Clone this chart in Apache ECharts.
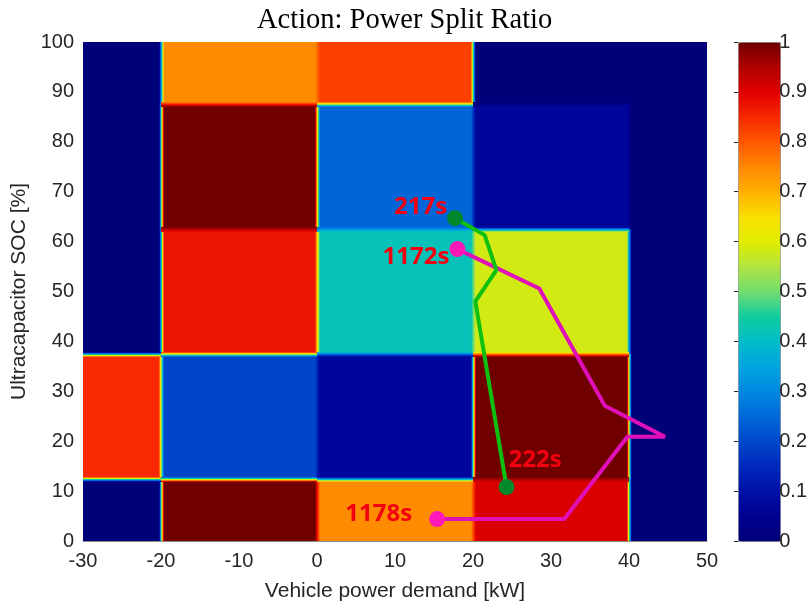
<!DOCTYPE html>
<html>
<head>
<meta charset="utf-8">
<script src="https://cdn.jsdelivr.net/npm/echarts@6/dist/echarts.min.js"></script>
<style>
  html, body { margin: 0; padding: 0; background: #ffffff; }
  #chart { width: 810px; height: 609px; }
</style>
</head>
<body>
<div id="chart"></div>
<script>
// Cell edges of the lookup table (power demand in kW, SOC in %)
const powerEdges = [-30, -20, 0, 20, 40, 50];
const socEdges = [0, 12.5, 37.5, 62.5, 87.5, 100];

// Power split ratio per cell, rows from low SOC to high SOC
const splitRatio = [
  [0.00, 1.00, 0.745, 0.905, 0.00],
  [0.85, 0.195, 0.07, 1.00, 0.00],
  [0.00, 0.875, 0.42, 0.585, 0.00],
  [0.00, 1.00, 0.245, 0.07, 0.00],
  [0.00, 0.745, 0.825, 0.00, 0.00]
];

// Operating trajectories [power kW, SOC %]
const trajA = [[17.7, 64.7], [21.5, 61.3], [23.0, 54.3], [20.3, 48.0], [24.3, 10.8]];
const trajATimes = ['217s', '222s'];
const trajB = [[18.0, 58.5], [28.5, 50.6], [36.9, 27.1], [44.6, 20.9], [39.8, 20.9], [31.7, 4.4], [15.4, 4.4]];
const trajBTimes = ['1172s', '1178s'];

// Colorbar ticks
const barTicks = [0, 0.1, 0.2, 0.3, 0.4, 0.5, 0.6, 0.7, 0.8, 0.9, 1];

// Jet-like colormap, stops evenly spaced from 0 to 1 (step 0.05)
const jetStops = [
  '#000078', '#000090', '#0010a8', '#0028bc', '#0048cc', '#0068d8', '#0088e0',
  '#00a4e0', '#00bcc8', '#10cca0', '#70dc70', '#b0e440', '#e0ec00', '#f8e000',
  '#ffb000', '#ff8800', '#ff5800', '#f82800', '#e00000', '#b00000', '#700000'
];

function hexToRgb(h) {
  return [parseInt(h.slice(1, 3), 16), parseInt(h.slice(3, 5), 16), parseInt(h.slice(5, 7), 16)];
}
const jetRgb = jetStops.map(hexToRgb);
function jet(v) {
  v = Math.max(0, Math.min(1, v));
  const p = v * (jetRgb.length - 1);
  const i = Math.min(Math.floor(p), jetRgb.length - 2);
  const t = p - i;
  const a = jetRgb[i], b = jetRgb[i + 1];
  const c = a.map((x, k) => Math.round(x + (b[k] - x) * t));
  return 'rgb(' + c.join(',') + ')';
}

// Cells: [x0, x1, y0, y1, value]
const cells = [];
for (let r = 0; r < splitRatio.length; r++) {
  for (let c = 0; c < splitRatio[r].length; c++) {
    cells.push([powerEdges[c], powerEdges[c + 1], socEdges[r], socEdges[r + 1], splitRatio[r][c]]);
  }
}

// Interpolated seams between neighbouring cells: [a, b, c, vFrom, vTo, kind]
// kind 0: vertical seam at x=a from y=b to y=c; kind 1: horizontal seam at y=c from x=a to x=b
const seams = [];
for (let r = 0; r < splitRatio.length; r++) {
  for (let c = 0; c < splitRatio[r].length - 1; c++) {
    const va = splitRatio[r][c], vb = splitRatio[r][c + 1];
    if (va !== vb) seams.push([powerEdges[c + 1], socEdges[r], socEdges[r + 1], va, vb, 0]);
  }
}
for (let r = 0; r < splitRatio.length - 1; r++) {
  for (let c = 0; c < splitRatio[r].length; c++) {
    const va = splitRatio[r][c], vb = splitRatio[r + 1][c];
    if (va !== vb) seams.push([powerEdges[c], powerEdges[c + 1], socEdges[r + 1], va, vb, 1]);
  }
}

const tickFont = { fontFamily: 'Liberation Sans, Arial, sans-serif', fontSize: 20, color: '#262626' };
const labelFont = { fontFamily: 'Open Sans, sans-serif', fontWeight: 'bold', fontSize: 24, color: '#f20010' };

const chart = echarts.init(document.getElementById('chart'), null, { renderer: 'canvas' });
const R = Math.round;

const option = {
  backgroundColor: '#ffffff',
  animation: false,
  title: {
    text: 'Action: Power Split Ratio',
    left: 252,
    top: 1,
    textStyle: { fontFamily: 'Liberation Serif, Times New Roman, serif', fontWeight: 'normal', fontSize: 28.5, color: '#000000' }
  },
  grid: [
    { left: 83, right: 103, top: 42, bottom: 68 },
    { left: 738, width: 42, top: 42, bottom: 68 }
  ],
  xAxis: [
    {
      type: 'value', gridIndex: 0, min: -30, max: 50, interval: 10,
      name: 'Vehicle power demand [kW]', nameLocation: 'middle', nameGap: 40,
      nameTextStyle: Object.assign({}, tickFont, { fontSize: 21 }),
      axisLine: { show: true, lineStyle: { color: '#8c8c8c', width: 1 } },
      axisTick: { show: false },
      splitLine: { show: false },
      axisLabel: Object.assign({ margin: 10 }, tickFont)
    },
    { type: 'value', gridIndex: 1, show: false, min: 0, max: 1 }
  ],
  yAxis: [
    {
      type: 'value', gridIndex: 0, min: 0, max: 100, interval: 10,
      name: 'Ultracapacitor SOC [%]', nameLocation: 'middle', nameGap: 50,
      nameTextStyle: Object.assign({}, tickFont, { fontSize: 21 }),
      axisLine: { show: true, lineStyle: { color: '#8c8c8c', width: 1 } },
      axisTick: { show: false },
      splitLine: { show: false },
      axisLabel: Object.assign({ margin: 9 }, tickFont)
    },
    {
      type: 'value', gridIndex: 1, min: 0, max: 1, interval: 0.1, position: 'right', z: 10,
      axisLine: { show: false },
      axisTick: { show: true, inside: true, length: 4, lineStyle: { color: '#262626' } },
      splitLine: { show: false },
      axisLabel: Object.assign({
        margin: 9,
        formatter: function (v) {
          const m = barTicks.find(t => Math.abs(t - v) < 1e-6);
          return m === undefined ? '' : String(m);
        }
      }, tickFont)
    }
  ],
  visualMap: {
    type: 'continuous',
    seriesIndex: 0,
    dimension: 4,
    min: 0, max: 1,
    orient: 'vertical',
    left: 738, top: 42,
    itemWidth: 42, itemHeight: 499,
    padding: 0,
    calculable: false,
    hoverLink: false,
    showLabel: false,
    text: null,
    borderColor: '#8c8c8c',
    borderWidth: 1,
    inRange: { color: jetStops }
  },
  series: [
    {
      type: 'custom',
      xAxisIndex: 0, yAxisIndex: 0,
      data: cells,
      encode: { x: [0, 1], y: [2, 3] },
      clip: true,
      silent: true,
      renderItem: function (params, api) {
        const p0 = api.coord([api.value(0), api.value(3)]);
        const p1 = api.coord([api.value(1), api.value(2)]);
        const x0 = R(p0[0]), y0 = R(p0[1]), x1 = R(p1[0]), y1 = R(p1[1]);
        return {
          type: 'rect',
          shape: { x: x0, y: y0, width: x1 - x0, height: y1 - y0 },
          style: { fill: api.visual('color'), stroke: null }
        };
      }
    },
    {
      type: 'custom',
      xAxisIndex: 0, yAxisIndex: 0,
      data: seams,
      clip: true,
      silent: true,
      renderItem: function (params, api) {
        const kind = api.value(5);
        const va = api.value(3), vb = api.value(4);
        const stops = [];
        for (let k = 0; k <= 10; k++) {
          stops.push({ offset: k / 10, color: jet(va + (vb - va) * k / 10) });
        }
        const w = 5;
        if (kind === 0) {
          const top = api.coord([api.value(0), api.value(2)]);
          const bot = api.coord([api.value(0), api.value(1)]);
          const x = R(top[0]);
          return {
            type: 'rect',
            shape: { x: x - 2, y: R(top[1]), width: w, height: R(bot[1]) - R(top[1]) },
            style: { fill: new echarts.graphic.LinearGradient(0, 0, 1, 0, stops) }
          };
        }
        const l = api.coord([api.value(0), api.value(2)]);
        const r = api.coord([api.value(1), api.value(2)]);
        const y = R(l[1]);
        // gradient runs from the lower cell (bottom) to the upper cell (top)
        return {
          type: 'rect',
          shape: { x: R(l[0]), y: y - 2, width: R(r[0]) - R(l[0]), height: w },
          style: { fill: new echarts.graphic.LinearGradient(0, 1, 0, 0, stops) }
        };
      }
    },
    {
      type: 'line', xAxisIndex: 0, yAxisIndex: 0,
      data: trajB, symbol: 'none', silent: true,
      lineStyle: { color: '#e010b8', width: 4 }, z: 5
    },
    {
      type: 'line', xAxisIndex: 0, yAxisIndex: 0,
      data: trajA, symbol: 'none', silent: true,
      lineStyle: { color: '#10c010', width: 4 }, z: 6
    },
    {
      type: 'scatter', xAxisIndex: 0, yAxisIndex: 0, z: 7, silent: true,
      symbolSize: 16,
      itemStyle: { color: '#ff18b8', opacity: 1 },
      data: [
        { value: trajB[0], label: { show: true, formatter: trajBTimes[0], position: 'left', distance: 0, offset: [0, 8] } },
        { value: trajB[trajB.length - 1], label: { show: true, formatter: trajBTimes[1], position: 'left', distance: 0, offset: [-17, -5] } }
      ],
      label: labelFont
    },
    {
      type: 'scatter', xAxisIndex: 0, yAxisIndex: 0, z: 8, silent: true,
      symbolSize: 16,
      itemStyle: { color: '#00882a', opacity: 1 },
      data: [
        { value: trajA[0], label: { show: true, formatter: trajATimes[0], position: 'left', distance: 0, offset: [0, -11] } },
        { value: trajA[trajA.length - 1], label: { show: true, formatter: trajATimes[1], position: 'right', distance: 0, offset: [-6, -27] } }
      ],
      label: labelFont
    }
  ]
};

chart.setOption(option);
</script>
</body>
</html>
